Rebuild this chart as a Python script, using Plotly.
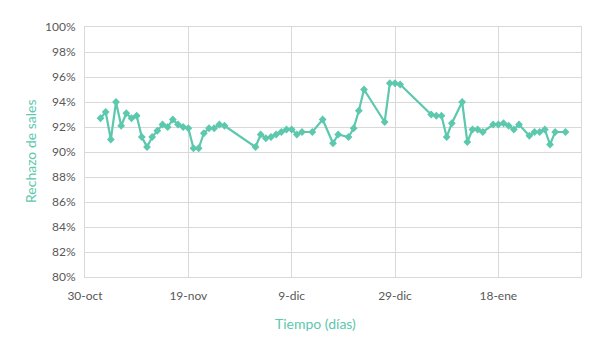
import plotly.graph_objects as go

dates = [
    "2017-11-02", "2017-11-03", "2017-11-04", "2017-11-05", "2017-11-06", "2017-11-07",
    "2017-11-08", "2017-11-09", "2017-11-10", "2017-11-11", "2017-11-12", "2017-11-13",
    "2017-11-14", "2017-11-15", "2017-11-16", "2017-11-17", "2017-11-18", "2017-11-19",
    "2017-11-20", "2017-11-21", "2017-11-22", "2017-11-23", "2017-11-24", "2017-11-25",
    "2017-11-26",
    "2017-12-02", "2017-12-03", "2017-12-04", "2017-12-05", "2017-12-06", "2017-12-07",
    "2017-12-08", "2017-12-09", "2017-12-10", "2017-12-11", "2017-12-13", "2017-12-15",
    "2017-12-17", "2017-12-18", "2017-12-20", "2017-12-21", "2017-12-22", "2017-12-23",
    "2017-12-27", "2017-12-28", "2017-12-29", "2017-12-30",
    "2018-01-05", "2018-01-06", "2018-01-07", "2018-01-08", "2018-01-09", "2018-01-11",
    "2018-01-12", "2018-01-13", "2018-01-14", "2018-01-15", "2018-01-17", "2018-01-18",
    "2018-01-19", "2018-01-20", "2018-01-21", "2018-01-22", "2018-01-24", "2018-01-25",
    "2018-01-26", "2018-01-27", "2018-01-28", "2018-01-29", "2018-01-31",
]
rechazo = [
    92.7, 93.2, 91.0, 94.0, 92.1, 93.1,
    92.7, 92.9, 91.2, 90.4, 91.2, 91.7,
    92.2, 92.0, 92.6, 92.2, 92.0, 91.9,
    90.3, 90.3, 91.5, 91.9, 91.9, 92.2,
    92.1,
    90.4, 91.4, 91.1, 91.2, 91.4, 91.6,
    91.8, 91.8, 91.4, 91.6, 91.6, 92.6,
    90.7, 91.4, 91.2, 91.9, 93.3, 95.0,
    92.4, 95.5, 95.5, 95.4,
    93.0, 92.9, 92.9, 91.2, 92.3, 94.0,
    90.8, 91.8, 91.8, 91.6, 92.2, 92.2,
    92.3, 92.1, 91.8, 92.2, 91.3, 91.6,
    91.6, 91.8, 90.6, 91.6, 91.6,
]

x_tick_vals = ["2017-10-30", "2017-11-19", "2017-12-09", "2017-12-29", "2018-01-18"]
x_tick_text = ["30-oct", "19-nov", "9-dic", "29-dic", "18-ene"]
y_tick_vals = [80, 82, 84, 86, 88, 90, 92, 94, 96, 98, 100]
y_tick_text = ["80%", "82%", "84%", "86%", "88%", "90%", "92%", "94%", "96%", "98%", "100%"]

teal = "#5cc8ad"
grid = "#d9d9d9"
font_family = "Lato, 'Open Sans', sans-serif"

fig = go.Figure()
fig.add_trace(go.Scatter(
    x=dates, y=rechazo, mode="lines+markers",
    line=dict(color=teal, width=2.2),
    marker=dict(symbol="diamond", size=6, color=teal),
    showlegend=False,
))

fig.update_layout(
    width=607, height=344,
    margin=dict(l=85, r=26, t=27, b=67),
    paper_bgcolor="white", plot_bgcolor="white",
    font=dict(family=font_family, size=12, color="#595959"),
    xaxis=dict(
        range=["2017-10-30", "2018-02-03"],
        tickvals=x_tick_vals, ticktext=x_tick_text,
        showgrid=True, gridcolor=grid, gridwidth=1,
        showline=True, linecolor=grid, linewidth=1, mirror=True,
        ticks="", tickfont=dict(size=12, color="#595959"),
        ticklabelstandoff=8,
        zeroline=False,
    ),
    yaxis=dict(
        range=[80, 100],
        tickvals=y_tick_vals, ticktext=y_tick_text,
        showgrid=True, gridcolor=grid, gridwidth=1,
        showline=True, linecolor=grid, linewidth=1, mirror=True,
        ticks="", tickfont=dict(size=12, color="#595959"),
        ticklabelstandoff=6,
        zeroline=False,
    ),
)
plot_w = 607 - 85 - 26
plot_h = 344 - 27 - 67
fig.add_annotation(
    text="Tiempo (días)",
    x=(315 - 85) / plot_w, y=(344 - 67 - 323) / plot_h,
    xref="paper", yref="paper", showarrow=False, yanchor="middle", xanchor="center",
    font=dict(size=14, color=teal, family=font_family),
)
fig.add_annotation(
    text="Rechazo de sales", textangle=-90,
    x=(30 - 85) / plot_w, y=(344 - 67 - 152) / plot_h,
    xref="paper", yref="paper", showarrow=False, yanchor="middle", xanchor="center",
    font=dict(size=14, color=teal, family=font_family),
)

fig.write_html("out.html")
